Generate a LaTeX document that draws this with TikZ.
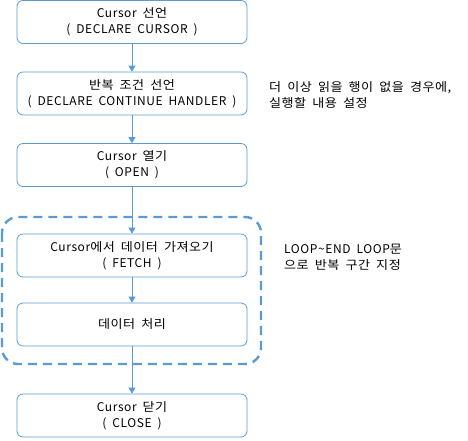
\documentclass[tikz,border=0pt]{standalone}
\usepackage{fontspec}
\setmainfont{Noto Sans CJK KR}[WordSpace={1.8}, LetterSpace=5]
\newfontfamily\ko{Noto Sans CJK KR}[WordSpace={1.8}, FakeStretch=1.09, LetterSpace=4]
\usetikzlibrary{arrows.meta}
\definecolor{lineblue}{HTML}{5B9BD5}
\tikzset{
  stepbox/.style={draw=lineblue, line width=0.8pt, rounded corners=6pt, minimum width=230pt, minimum height=43pt, align=center, font=\fontsize{12}{16}\selectfont, inner sep=0pt},
  flow/.style={draw=lineblue, line width=0.8pt, -{Triangle[length=6pt,width=7pt]}},
  note/.style={anchor=west, align=left, font=\fontsize{12}{16}\selectfont, inner sep=0pt},
  loopbox/.style={draw=lineblue, line width=2.4pt, dash pattern=on 9pt off 6pt, rounded corners=16pt}
}
\begin{document}
\begin{tikzpicture}[x=1pt,y=-1pt]
\useasboundingbox (0,0) rectangle (468,440);
\node[stepbox] (b1) at (132,22) {Cursor {\ko 선언}\\( DECLARE CURSOR )};
\node[stepbox] (b2) at (132,93.5) {{\ko 반복 조건 선언}\\( DECLARE CONTINUE HANDLER )};
\node[stepbox] (b3) at (132,165) {Cursor {\ko 열기}\\( OPEN )};
\node[stepbox] (b4) at (132,255.5) {Cursor{\ko 에서 데이터 가져오기}\\( FETCH )};
\node[stepbox] (b5) at (132,324.5) {{\ko 데이터 처리}};
\node[stepbox] (b6) at (132,415.5) {Cursor {\ko 닫기}\\( CLOSE )};
\draw[loopbox] (2,217) rectangle (261,364);
\draw[flow] (b1) -- (b2);
\draw[flow] (b2) -- (b3);
\draw[flow] (b3) -- (b4);
\draw[flow] (b4) -- (b5);
\draw[flow] (b5) -- (b6);
\node[note] (n1) at (269,95) {{\ko 더 이상 읽을 행이 없을 경우에,}\\{\ko 실행할 내용 설정}};
\node[note] (n2) at (284,257) {LOOP\textasciitilde END LOOP{\ko 문}\\{\ko 으로 반복 구간 지정}};
\end{tikzpicture}
\end{document}
